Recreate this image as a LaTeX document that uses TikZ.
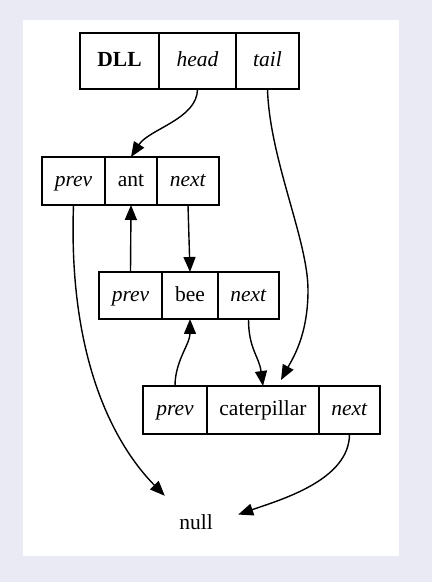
\documentclass[tikz,border=0pt]{standalone}
\usepackage{fontspec}
\setmainfont{Liberation Serif}
\usepackage{tikz}
\usetikzlibrary{arrows.meta}
\usetikzlibrary{positioning}
\definecolor{pagebg}{RGB}{234,234,244}
\newcommand\recfont{\fontsize{21.5pt}{26pt}\selectfont}
\newcommand\cellheight{48pt}
\tikzset{>={Triangle[length=15pt,width=12pt]}}
\tikzset{
    cell/.style={draw, line width=1.5pt, minimum height=\cellheight, inner sep=0pt, outer sep=0pt, text height=16pt, text depth=4pt, font=\recfont},
    first/.style={cell, anchor=north west},
    ptr/.style={->, line width=1.4pt},
}

\begin{document}
\begin{tikzpicture}[x=1pt,y=1pt]
    \useasboundingbox (0,0) rectangle (432,582);
    \fill[pagebg] (0,0) rectangle (432,582);
    \fill[white] (23,26) rectangle (399,562);
    % records
    \node(dll)[first, minimum height=56pt, minimum width=79pt] at (80,549) {\textbf{DLL}};
    \node(head)[cell, minimum height=56pt, minimum width=77pt, right=0pt of dll]{\textit{head}};
    \node(tail)[cell, minimum height=56pt, minimum width=63pt, right=0pt of head]{\textit{tail}};
    \node(antprev)[first, minimum width=63pt] at (42,425) {\textit{prev}};
    \node(ant)[cell, minimum width=52pt, right=0pt of antprev]{ant};
    \node(antnext)[cell, minimum width=62pt, right=0pt of ant]{\textit{next}};
    \node(beeprev)[first, minimum height=47pt, minimum width=63pt] at (99,310) {\textit{prev}};
    \node(bee)[cell, minimum height=47pt, minimum width=56pt, right=0pt of beeprev]{bee};
    \node(beenext)[cell, minimum height=47pt, minimum width=61pt, right=0pt of bee]{\textit{next}};
    \node(catprev)[first, minimum width=64pt] at (143,196) {\textit{prev}};
    \node(cat)[cell, minimum width=112pt, right=0pt of catprev]{caterpillar};
    \node(catnext)[cell, minimum width=61pt, right=0pt of cat]{\textit{next}};
    \node(null)[font=\recfont, minimum width=84pt, minimum height=52pt, inner sep=0pt] at (196,60) {null};
    % pointers
    \draw[ptr] (head.south) .. controls +(0,-30) and +(18,28) .. (ant.north);
    \draw[ptr] (tail.south) .. controls +(2,-70) and +(0,50) .. (308,292)
        .. controls +(0,-45) and +(12,22) .. ([xshift=18pt,yshift=6pt]cat.north);
    \draw[ptr] (antprev.south) .. controls +(-5.5,-155) and +(-50,51) .. (null.140);
    \draw[ptr] (antnext.south) -- (bee.north);
    \draw[ptr] (beeprev.north) -- (ant.south);
    \draw[ptr] (beenext.south) .. controls +(0,-30) and +(-4,30) .. (cat.north);
    \draw[ptr] (catprev.north) .. controls +(0,25) and +(0,-25) .. (bee.south);
    \draw[ptr] (catnext.south) .. controls +(0,-46) and +(43,15) .. (null.10);
\end{tikzpicture}
\end{document}
